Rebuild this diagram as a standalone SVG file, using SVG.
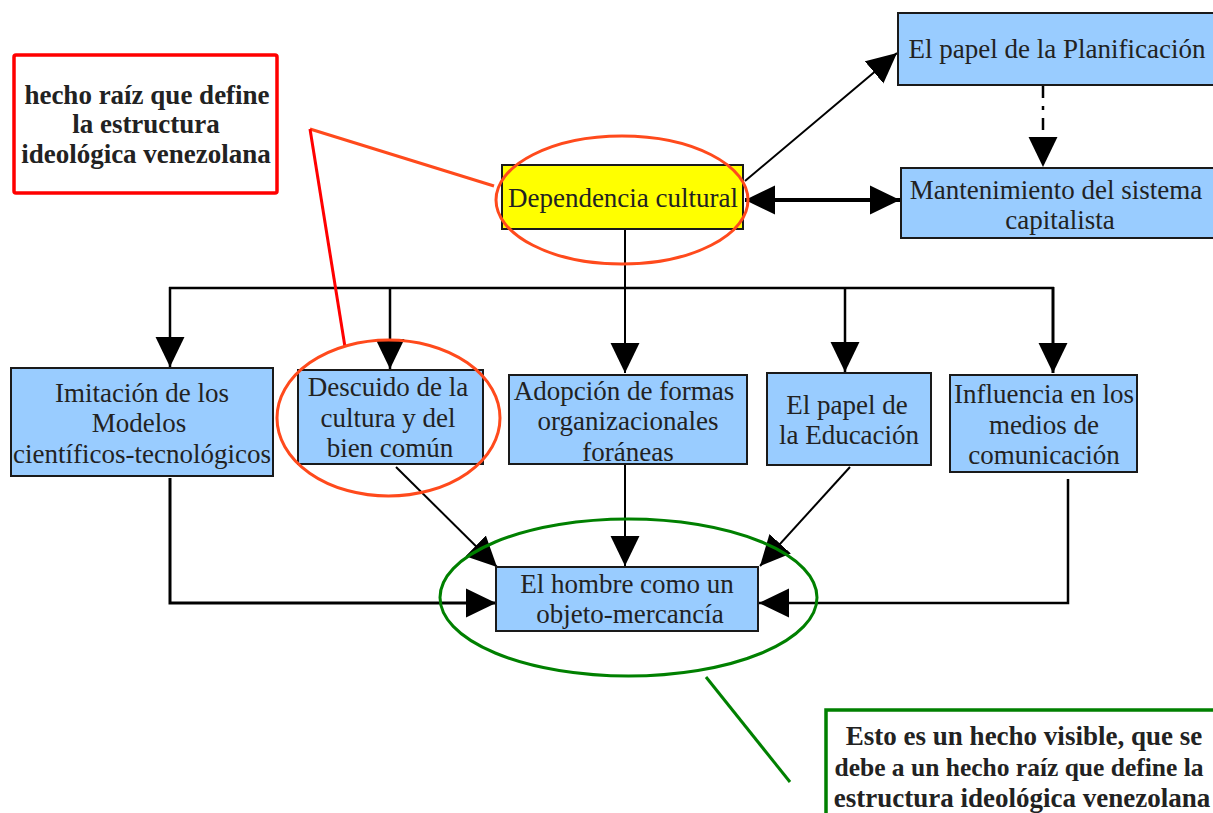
<svg xmlns="http://www.w3.org/2000/svg" width="1213" height="813" viewBox="0 0 1213 813">
<defs>
<style>
.box{fill:#99ccff;stroke:#1a1a1a;stroke-width:2}
.t{font-family:"Liberation Serif","Times New Roman",serif;font-size:27px;fill:#222;text-anchor:middle}
.b{font-family:"Liberation Serif","Times New Roman",serif;font-size:27px;font-weight:bold;fill:#222;text-anchor:middle}
.c{fill:none;stroke:#000}
.note{fill:#fff}
</style>
<marker id="ah" markerUnits="userSpaceOnUse" markerWidth="30" markerHeight="30" viewBox="0 0 28 27" refX="28" refY="13.5" orient="auto-start-reverse">
<path d="M0,0 L28,13.5 L0,27 z" fill="#000"/>
</marker>
</defs>
<rect width="1213" height="813" fill="#fff"/>

<g id="connectors">
<line class="c" x1="745" y1="181" x2="897" y2="53" stroke-width="2" marker-end="url(#ah)"/>
<line class="c" x1="1043" y1="86" x2="1043" y2="167" stroke-width="2.5" stroke-dasharray="12,8,4,8" marker-end="url(#ah)"/>
<line class="c" x1="745" y1="200" x2="900" y2="200" stroke-width="4" marker-start="url(#ah)" marker-end="url(#ah)"/>
<line class="c" x1="625" y1="229" x2="625" y2="373" stroke-width="2" marker-end="url(#ah)"/>
<line class="c" x1="169" y1="288" x2="1054" y2="288" stroke-width="2.5"/>
<line class="c" x1="170" y1="287" x2="170" y2="367" stroke-width="2.5" marker-end="url(#ah)"/>
<line class="c" x1="390" y1="287" x2="390" y2="369" stroke-width="2.5" marker-end="url(#ah)"/>
<line class="c" x1="845" y1="287" x2="845" y2="372" stroke-width="2.5" marker-end="url(#ah)"/>
<line class="c" x1="1053" y1="287" x2="1053" y2="373" stroke-width="3" marker-end="url(#ah)"/>
<polyline class="c" points="170,478 170,603 496,603" stroke-width="3" marker-end="url(#ah)"/>
<line class="c" x1="396" y1="467" x2="497" y2="567" stroke-width="2" marker-end="url(#ah)"/>
<line class="c" x1="625" y1="464" x2="625" y2="566" stroke-width="2" marker-end="url(#ah)"/>
<line class="c" x1="850" y1="467" x2="760" y2="566" stroke-width="2" marker-end="url(#ah)"/>
<polyline class="c" points="1068,479 1068,603 759,603" stroke-width="2.5" marker-end="url(#ah)"/>
</g>

<g id="n-planificacion">
<rect class="box" x="898" y="13" width="320" height="72"/>
<text class="t" x="1057" y="58">El papel de la Planificación</text>
</g>
<g id="n-mantenimiento">
<rect class="box" x="901" y="168" width="317" height="70"/>
<text class="t" x="1056" y="199">Mantenimiento del sistema</text>
<text class="t" x="1060" y="229">capitalista</text>
</g>
<g id="n-dependencia">
<rect x="502" y="165" width="241" height="64" fill="#ffff00" stroke="#1a1a1a" stroke-width="2"/>
<text class="t" x="623" y="207">Dependencia cultural</text>
</g>
<g id="n-imitacion">
<rect class="box" x="11" y="368" width="262" height="108"/>
<text class="t" x="142" y="402">Imitación de los</text>
<text class="t" x="139" y="432">Modelos</text>
<text class="t" x="142" y="463">científicos-tecnológicos</text>
</g>
<g id="n-descuido">
<rect class="box" x="298" y="370" width="185" height="94"/>
<text class="t" x="388" y="396">Descuido de la</text>
<text class="t" x="388" y="427">cultura y del</text>
<text class="t" x="390" y="457">bien común</text>
</g>
<g id="n-adopcion">
<rect class="box" x="509" y="375" width="238" height="89"/>
<text class="t" x="624" y="400">Adopción de formas</text>
<text class="t" x="628" y="430">organizacionales</text>
<text class="t" x="628" y="461">foráneas</text>
</g>
<g id="n-educacion">
<rect class="box" x="767" y="373" width="164" height="92"/>
<text class="t" x="847" y="414">El papel de</text>
<text class="t" x="849" y="444">la Educación</text>
</g>
<g id="n-influencia">
<rect class="box" x="950" y="375" width="187" height="97"/>
<text class="t" x="1044" y="403">Influencia en los</text>
<text class="t" x="1044" y="434">medios de</text>
<text class="t" x="1044" y="464">comunicación</text>
</g>
<g id="n-hombre">
<rect class="box" x="496" y="567" width="262" height="64"/>
<text class="t" x="627" y="593">El hombre como un</text>
<text class="t" x="630" y="623">objeto-mercancía</text>
</g>

<g id="annotations">
<rect class="note" x="14" y="55" width="263" height="138" rx="2" stroke="#ff0000" stroke-width="3.5"/>
<text class="b" x="147" y="104">hecho raíz que define</text>
<text class="b" x="146" y="133">la estructura</text>
<text class="b" x="146" y="163">ideológica venezolana</text>
<line x1="494" y1="186" x2="310" y2="129" stroke="#ff4a1c" stroke-width="3"/>
<line x1="310" y1="129" x2="345" y2="347" stroke="#ff0000" stroke-width="3"/>
<ellipse cx="622" cy="200" rx="126" ry="64" fill="none" stroke="#ff4a1c" stroke-width="3"/>
<ellipse cx="388.5" cy="418" rx="111.5" ry="78" fill="none" stroke="#ff4a1c" stroke-width="3"/>
<ellipse cx="628.5" cy="597.5" rx="188.5" ry="78.5" fill="none" stroke="#008000" stroke-width="3"/>
<line x1="706" y1="677" x2="790" y2="782" stroke="#008000" stroke-width="3"/>
<rect class="note" x="826" y="710" width="420" height="140" stroke="#008000" stroke-width="3.5"/>
<text class="b" x="1024" y="745">Esto es un hecho visible, que se</text>
<text class="b" x="1019" y="776" style="font-size:25.5px">debe a un hecho raíz que define la</text>
<text class="b" x="1022" y="807">estructura ideológica venezolana</text>
</g>
</svg>
